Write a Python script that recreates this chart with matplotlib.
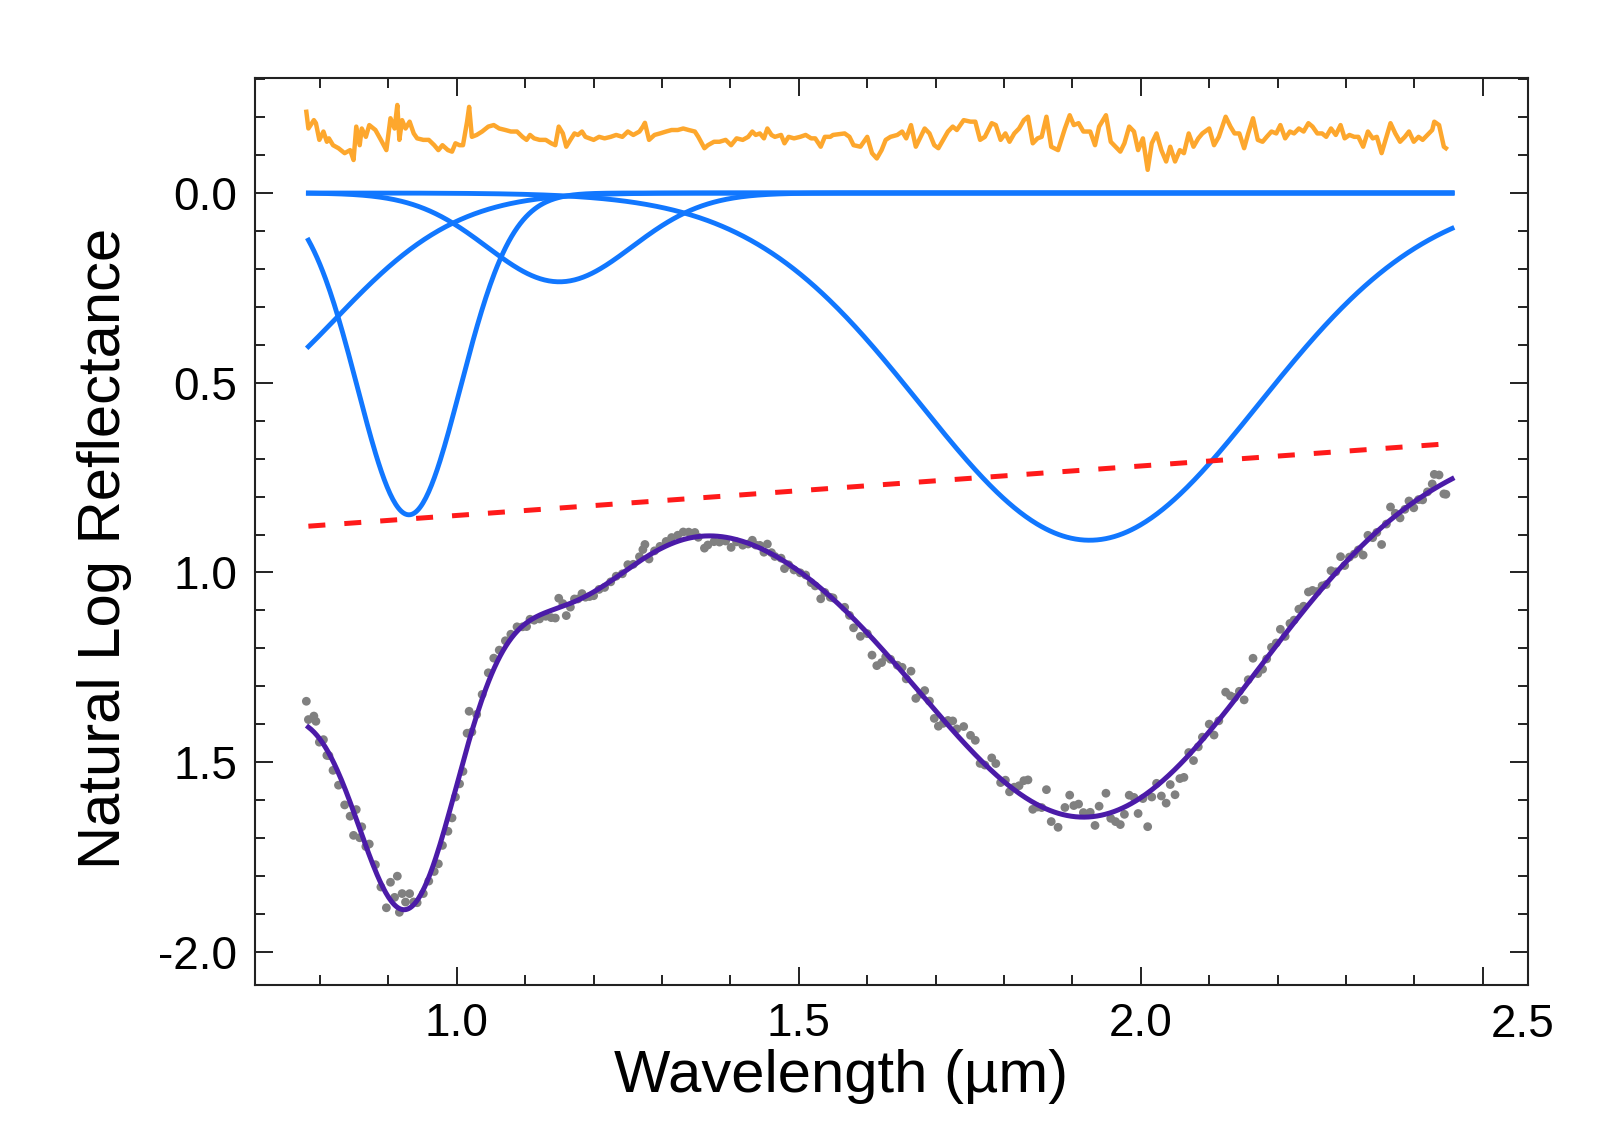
import numpy as np
import matplotlib.pyplot as plt
from matplotlib.ticker import MultipleLocator

plt.rcParams['font.family'] = ['Liberation Sans', 'DejaVu Sans']

# MGM absorption bands: centre (um), width (um), strength (ln reflectance)
band_center = [0.644, 0.930, 1.150, 1.925]
band_width = [0.178, 0.075, 0.106, 0.248]
band_strength = [-0.549, -0.848, -0.234, -0.915]

# linear continuum end points
cont_wl = [0.783, 2.455]
cont_val = [-0.878, -0.660]

# residual (observed - model, shifted up by resid_offset)
resid_offset = 0.15
resid_wl = [
    0.780, 0.783, 0.791, 0.794, 0.799, 0.805, 0.810, 0.813, 0.819, 0.827,
    0.836, 0.844, 0.849, 0.853, 0.858, 0.861, 0.867, 0.872, 0.881, 0.889,
    0.897, 0.903, 0.909, 0.913, 0.916, 0.920, 0.925, 0.931, 0.937, 0.942,
    0.951, 0.959, 0.967, 0.973, 0.979, 0.987, 0.993, 0.998, 1.004, 1.009,
    1.015, 1.018, 1.022, 1.029, 1.037, 1.046, 1.054, 1.062, 1.071, 1.079,
    1.088, 1.096, 1.102, 1.107, 1.113, 1.121, 1.130, 1.138, 1.144, 1.149,
    1.155, 1.160, 1.166, 1.172, 1.177, 1.183, 1.188, 1.194, 1.200, 1.208,
    1.216, 1.225, 1.233, 1.242, 1.250, 1.258, 1.267, 1.272, 1.275, 1.281,
    1.289, 1.297, 1.306, 1.314, 1.323, 1.331, 1.339, 1.348, 1.353, 1.362,
    1.367, 1.376, 1.384, 1.393, 1.401, 1.409, 1.418, 1.426, 1.432, 1.437,
    1.443, 1.449, 1.454, 1.460, 1.465, 1.474, 1.479, 1.485, 1.493, 1.502,
    1.510, 1.518, 1.524, 1.532, 1.538, 1.546, 1.550, 1.567, 1.574, 1.580,
    1.590, 1.600, 1.607, 1.614, 1.621, 1.627, 1.634, 1.644, 1.651, 1.657,
    1.664, 1.671, 1.678, 1.684, 1.691, 1.698, 1.704, 1.711, 1.718, 1.725,
    1.731, 1.741, 1.751, 1.758, 1.765, 1.772, 1.782, 1.788, 1.795, 1.802,
    1.808, 1.815, 1.822, 1.829, 1.835, 1.842, 1.849, 1.855, 1.862, 1.869,
    1.879, 1.889, 1.896, 1.902, 1.909, 1.916, 1.926, 1.933, 1.939, 1.949,
    1.956, 1.963, 1.970, 1.976, 1.983, 1.990, 1.996, 2.003, 2.010, 2.016,
    2.023, 2.030, 2.037, 2.043, 2.050, 2.057, 2.063, 2.070, 2.077, 2.084,
    2.090, 2.100, 2.107, 2.114, 2.124, 2.131, 2.137, 2.144, 2.151, 2.157,
    2.164, 2.171, 2.178, 2.184, 2.191, 2.198, 2.204, 2.211, 2.218, 2.224,
    2.231, 2.238, 2.245, 2.251, 2.258, 2.265, 2.271, 2.278, 2.285, 2.292,
    2.298, 2.305, 2.312, 2.318, 2.325, 2.332, 2.339, 2.345, 2.352, 2.359,
    2.365, 2.372, 2.379, 2.386, 2.392, 2.399, 2.406, 2.412, 2.419, 2.426,
    2.429, 2.436, 2.443, 2.446,
]
resid_val = [
    0.214, 0.170, 0.192, 0.184, 0.140, 0.162, 0.135, 0.144, 0.126, 0.118,
    0.105, 0.113, 0.087, 0.175, 0.126, 0.170, 0.148, 0.179, 0.166, 0.140,
    0.113, 0.197, 0.170, 0.232, 0.140, 0.192, 0.170, 0.188, 0.157, 0.144,
    0.140, 0.140, 0.126, 0.113, 0.126, 0.113, 0.109, 0.131, 0.126, 0.126,
    0.188, 0.227, 0.148, 0.153, 0.162, 0.175, 0.179, 0.170, 0.166, 0.162,
    0.162, 0.148, 0.140, 0.153, 0.144, 0.140, 0.140, 0.131, 0.126, 0.175,
    0.157, 0.122, 0.140, 0.157, 0.153, 0.162, 0.148, 0.144, 0.140, 0.148,
    0.144, 0.148, 0.153, 0.148, 0.162, 0.153, 0.162, 0.175, 0.185, 0.140,
    0.153, 0.157, 0.162, 0.166, 0.166, 0.170, 0.166, 0.162, 0.148, 0.118,
    0.126, 0.135, 0.135, 0.140, 0.126, 0.144, 0.140, 0.148, 0.162, 0.153,
    0.157, 0.144, 0.170, 0.153, 0.148, 0.153, 0.131, 0.148, 0.144, 0.148,
    0.153, 0.144, 0.144, 0.122, 0.148, 0.148, 0.153, 0.157, 0.148, 0.126,
    0.122, 0.148, 0.105, 0.091, 0.113, 0.140, 0.148, 0.153, 0.162, 0.144,
    0.179, 0.122, 0.148, 0.170, 0.157, 0.126, 0.118, 0.140, 0.162, 0.175,
    0.166, 0.192, 0.188, 0.188, 0.140, 0.148, 0.184, 0.179, 0.140, 0.157,
    0.135, 0.157, 0.170, 0.192, 0.201, 0.131, 0.144, 0.148, 0.201, 0.122,
    0.113, 0.170, 0.205, 0.179, 0.184, 0.162, 0.162, 0.126, 0.175, 0.205,
    0.135, 0.122, 0.109, 0.131, 0.175, 0.162, 0.113, 0.144, 0.061, 0.131,
    0.157, 0.113, 0.083, 0.122, 0.083, 0.113, 0.105, 0.157, 0.122, 0.144,
    0.157, 0.170, 0.126, 0.148, 0.201, 0.175, 0.157, 0.157, 0.118, 0.157,
    0.197, 0.140, 0.135, 0.148, 0.162, 0.157, 0.179, 0.144, 0.162, 0.157,
    0.170, 0.162, 0.184, 0.175, 0.157, 0.157, 0.148, 0.170, 0.153, 0.179,
    0.144, 0.153, 0.148, 0.148, 0.122, 0.162, 0.144, 0.148, 0.105, 0.148,
    0.184, 0.157, 0.135, 0.148, 0.162, 0.135, 0.148, 0.140, 0.153, 0.166,
    0.188, 0.179, 0.122, 0.118,
]

x_ticks = [1.0, 1.5, 2.0, 2.5]
x_ticklabels = ['1.0', '1.5', '2.0', '2.5']
y_ticks = [0.0, -0.5, -1.0, -1.5, -2.0]
y_ticklabels = ['0.0', '0.5', '1.0', '1.5', '-2.0']


def band(x, c, w, s):
    return s * np.exp(-(x - c) ** 2 / (2 * w ** 2))


def model(x):
    total = np.interp(x, cont_wl, cont_val)
    for c, w, s in zip(band_center, band_width, band_strength):
        total = total + band(x, c, w, s)
    return total


wl = np.linspace(cont_wl[0], cont_wl[1], 800)
rw = np.array(resid_wl)
rv = np.array(resid_val)
observed = model(rw) + (rv - resid_offset)

fig = plt.figure(figsize=(16.02, 11.44), dpi=100)
ax = fig.add_axes([0.1592, 0.1390, 0.7946, 0.7928])

ax.plot(rw, rv, color='#FDA72D', lw=3.2, zorder=3)
for c, w, s in zip(band_center, band_width, band_strength):
    ax.plot(wl, band(wl, c, w, s), color='#1177FF', lw=3.5, zorder=2)
ax.plot(cont_wl, cont_val, color='#FF1A1A', lw=3.6,
        linestyle=(0, (3.4, 3.8)), zorder=2)
ax.scatter(rw, observed, s=40, color='#808080', edgecolors='none', zorder=4)
ax.plot(wl, model(wl), color='#4B1BA8', lw=3.6, zorder=5)

ax.set_xlim(0.705, 2.566)
ax.set_ylim(-2.087, 0.303)

ax.set_xticks(x_ticks)
ax.set_xticklabels(x_ticklabels[:3] + [''])
ax.text(2.558, -0.0195, x_ticklabels[3], transform=ax.get_xaxis_transform(),
        ha='center', va='top', fontsize=33)
ax.set_yticks(y_ticks)
ax.set_yticklabels(y_ticklabels)
ax.xaxis.set_minor_locator(MultipleLocator(0.1))
ax.yaxis.set_minor_locator(MultipleLocator(0.1))

ax.tick_params(which='both', direction='in', top=True, right=True,
               color='#222222', width=1.4, labelsize=33)
ax.tick_params(which='major', length=13)
ax.tick_params(which='minor', length=7)
ax.tick_params(axis='x', pad=12)
ax.tick_params(axis='y', pad=13)
for sp in ax.spines.values():
    sp.set_linewidth(1.5)
    sp.set_color('#222222')

fig.text(0.525, 0.0594, 'Wavelength (µm)', ha='center', va='center', fontsize=43)
fig.text(0.065, 0.521, 'Natural Log Reflectance', ha='center', va='center',
         rotation=90, fontsize=43)

fig.savefig('out.png', dpi=100)
